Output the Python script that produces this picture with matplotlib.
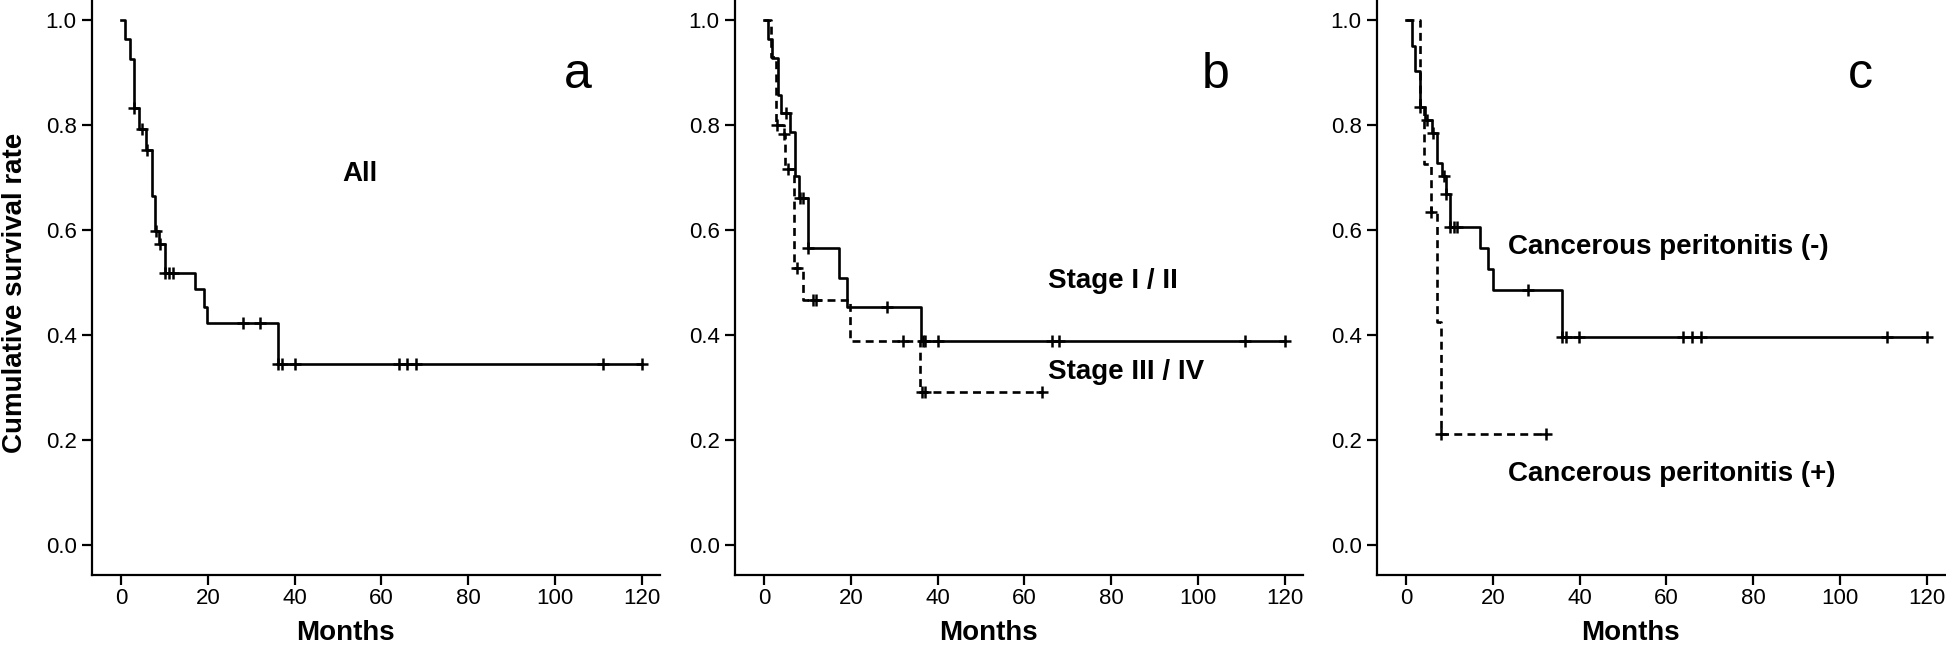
import numpy as np
import matplotlib.pyplot as plt

plt.rcParams['font.family'] = ['Liberation Sans', 'DejaVu Sans']

# panel a - all patients
a_times = [0, 1.0, 2.1, 3.0, 4.1, 5.8, 7.2, 7.9, 8.8, 10.1, 17.1, 19.0, 19.9, 36.1]
a_surv = [1.0, 0.963, 0.926, 0.833, 0.792, 0.752, 0.664, 0.598, 0.573, 0.519, 0.488, 0.454, 0.422, 0.345]
a_end = 120
a_cens = [3.0, 4.9, 5.9, 8.0, 8.9, 10.2, 11.0, 11.9, 28.1, 32.1, 36.2, 37.0, 40.0, 64.1, 66.0, 68.0, 111.0, 120.0]

# panel b - stage I/II (solid) and stage III/IV (dashed)
b1_times = [0, 1.0, 1.8, 3.1, 3.9, 6.0, 7.1, 8.1, 10.1, 17.2, 19.1, 36.1]
b1_surv = [1.0, 0.963, 0.928, 0.857, 0.822, 0.786, 0.703, 0.661, 0.566, 0.509, 0.454, 0.388]
b1_end = 120
b1_cens = [5.1, 8.2, 9.0, 10.2, 28.3, 36.6, 37.1, 40.1, 66.3, 67.9, 110.9, 120.0]

b2_times = [0, 1.5, 2.8, 4.5, 4.9, 7.0, 8.9, 19.9, 36.0]
b2_surv = [1.0, 0.93, 0.80, 0.783, 0.716, 0.527, 0.467, 0.389, 0.292]
b2_end = 64
b2_cens = [2.9, 4.6, 5.6, 7.7, 11.2, 12.0, 32.1, 36.3, 37.0, 64.0]

# panel c - cancerous peritonitis (-) solid, (+) dashed
c1_times = [0, 1.3, 2.1, 3.2, 4.4, 6.0, 7.2, 8.2, 9.3, 10.1, 17.1, 18.9, 20.0, 36.0]
c1_surv = [1.0, 0.951, 0.902, 0.835, 0.809, 0.785, 0.727, 0.702, 0.669, 0.606, 0.566, 0.526, 0.485, 0.396]
c1_end = 120
c1_cens = [3.2, 4.9, 6.1, 8.8, 9.3, 10.1, 11.0, 11.8, 28.0, 36.0, 36.8, 39.9, 63.9, 65.8, 67.9, 110.8, 120.0]

c2_times = [0, 3.2, 4.1, 5.7, 7.2, 8.0]
c2_surv = [1.0, 0.833, 0.725, 0.634, 0.425, 0.211]
c2_end = 32.2
c2_cens = [5.8, 8.1, 32.2]

months_ticks = [0, 20, 40, 60, 80, 100, 120]
surv_ticks = [0.0, 0.2, 0.4, 0.6, 0.8, 1.0]


def km(ax, times, surv, end, cens, dashed=False):
    t = np.append(times, end)
    s = np.append(surv, surv[-1])
    ls = (0, (3, 2)) if dashed else '-'
    ax.step(t, s, where='post', color='black', lw=1.9, linestyle=ls)
    idx = np.searchsorted(times, cens, side='right') - 1
    cy = np.array(surv)[idx]
    ax.plot(cens, cy, linestyle='none', marker='+', color='black',
            markersize=9, markeredgewidth=1.8)


W, H = 1946, 647
fig = plt.figure(figsize=(W / 100, H / 100), dpi=100)

lefts = [92, 735, 1377]
axes = []
for lx in lefts:
    ax = fig.add_axes([lx / W, (H - 575) / H, 568 / W, 575 / H])
    ax.set_xlim(-6.7, 124.2)
    ax.set_ylim(-0.057, 1.038)
    ax.set_xticks(months_ticks)
    ax.set_yticks(surv_ticks)
    ax.set_yticklabels([f'{v:.1f}' for v in surv_ticks])
    for sp in ['top', 'right']:
        ax.spines[sp].set_visible(False)
    for sp in ['left', 'bottom']:
        ax.spines[sp].set_linewidth(1.6)
    ax.tick_params(direction='out', length=7, width=1.6, labelsize=16, pad=4)
    ax.tick_params(axis='x', pad=2)
    ax.set_xlabel('Months', fontsize=20, fontweight='bold')
    ax.xaxis.set_label_coords(0.447, -0.078)
    axes.append(ax)

ax_a, ax_b, ax_c = axes

km(ax_a, a_times, a_surv, a_end, a_cens)
ax_a.text(55, 0.706, 'All', fontsize=20, fontweight='bold', ha='center', va='center')
ax_a.text(105.3, 0.87, 'a', fontsize=36, ha='center', va='baseline')
ax_a.set_ylabel('Cumulative survival rate', fontsize=20, fontweight='bold')
ax_a.yaxis.set_label_coords(-0.112, 0.49)

km(ax_b, b1_times, b1_surv, b1_end, b1_cens)
km(ax_b, b2_times, b2_surv, b2_end, b2_cens, dashed=True)
ax_b.text(65.5, 0.503, 'Stage I / II', fontsize=20, fontweight='bold', ha='left', va='center')
ax_b.text(65.5, 0.33, 'Stage III / IV', fontsize=20, fontweight='bold', ha='left', va='center')
ax_b.text(104, 0.87, 'b', fontsize=36, ha='center', va='baseline')

km(ax_c, c1_times, c1_surv, c1_end, c1_cens)
km(ax_c, c2_times, c2_surv, c2_end, c2_cens, dashed=True)
ax_c.text(23.5, 0.567, 'Cancerous peritonitis (-)', fontsize=20, fontweight='bold', ha='left', va='center')
ax_c.text(23.5, 0.135, 'Cancerous peritonitis (+)', fontsize=20, fontweight='bold', ha='left', va='center')
ax_c.text(104.8, 0.87, 'c', fontsize=36, ha='center', va='baseline')

fig.savefig('out.png', dpi=100)
